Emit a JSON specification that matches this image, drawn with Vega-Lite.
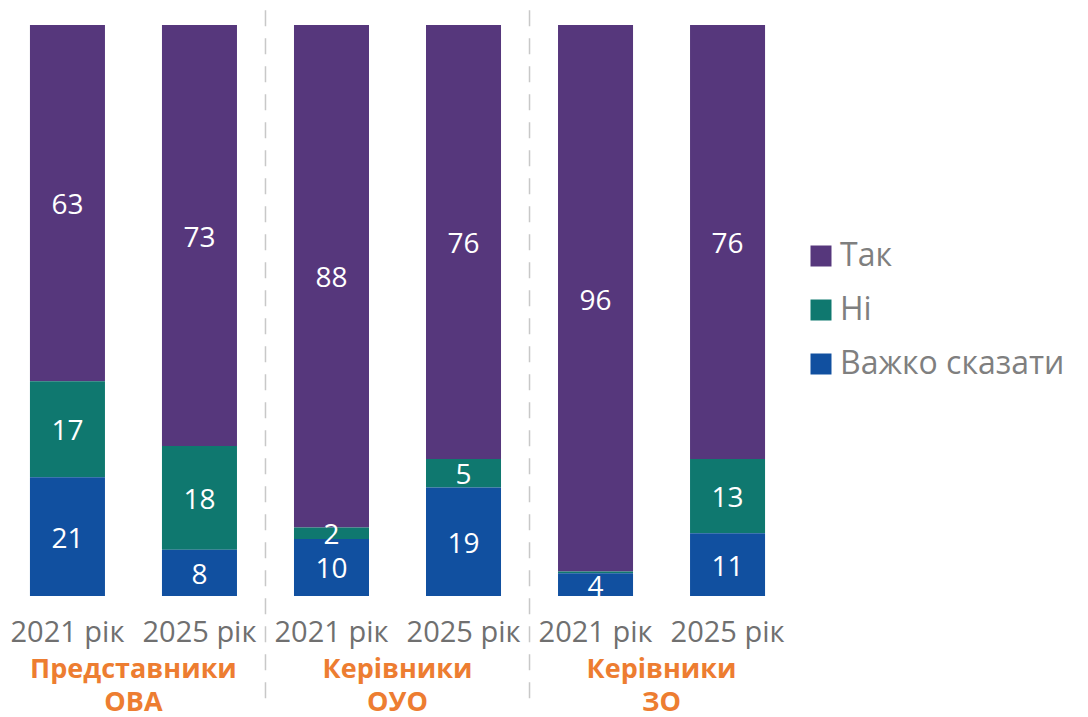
{
  "$schema": "https://vega.github.io/schema/vega-lite/v6.json",
  "width": 785,
  "height": 571,
  "autosize": {"type": "none"},
  "padding": {"left": 5, "top": 25, "right": 298, "bottom": 121},
  "background": "white",
  "config": {"view": {"stroke": null}, "font": "Open Sans"},
  "datasets": {
    "main": [
      {"bar": "ОВА|2021 рік", "answer": "Так", "value": 63},
      {"bar": "ОВА|2021 рік", "answer": "Ні", "value": 17},
      {"bar": "ОВА|2021 рік", "answer": "Важко сказати", "value": 21},
      {"bar": "ОВА|2025 рік", "answer": "Так", "value": 73},
      {"bar": "ОВА|2025 рік", "answer": "Ні", "value": 18},
      {"bar": "ОВА|2025 рік", "answer": "Важко сказати", "value": 8},
      {"bar": "ОУО|2021 рік", "answer": "Так", "value": 88},
      {"bar": "ОУО|2021 рік", "answer": "Ні", "value": 2},
      {"bar": "ОУО|2021 рік", "answer": "Важко сказати", "value": 10},
      {"bar": "ОУО|2025 рік", "answer": "Так", "value": 76},
      {"bar": "ОУО|2025 рік", "answer": "Ні", "value": 5},
      {"bar": "ОУО|2025 рік", "answer": "Важко сказати", "value": 19},
      {"bar": "ЗО|2021 рік", "answer": "Так", "value": 96},
      {"bar": "ЗО|2021 рік", "answer": "Ні", "value": 0.3},
      {"bar": "ЗО|2021 рік", "answer": "Важко сказати", "value": 4},
      {"bar": "ЗО|2025 рік", "answer": "Так", "value": 76},
      {"bar": "ЗО|2025 рік", "answer": "Ні", "value": 13},
      {"bar": "ЗО|2025 рік", "answer": "Важко сказати", "value": 11}
    ],
    "separators": [
      {"bar": "ОВА|2025 рік"},
      {"bar": "ОУО|2025 рік"}
    ],
    "groups": [
      {"bar": "ОВА|2021 рік", "label": "Представники\nОВА"},
      {"bar": "ОУО|2021 рік", "label": "Керівники\nОУО"},
      {"bar": "ЗО|2021 рік", "label": "Керівники\nЗО"}
    ]
  },
  "layer": [
    {
      "data": {"name": "main"},
      "mark": {"type": "bar"},
      "encoding": {
        "x": {
          "field": "bar", "type": "nominal", "sort": null,
          "scale": {"paddingInner": 0.4318, "paddingOuter": 0.189},
          "axis": {
            "title": null, "labelAngle": 0, "domain": false, "ticks": false,
            "labelExpr": "split(datum.label, '|')[1]",
            "labelFontSize": 29, "labelColor": "#707070", "labelPadding": 22,
            "labelOverlap": false, "labelBound": false, "labelFont": "Open Sans"
          }
        },
        "y": {
          "field": "value", "type": "quantitative", "stack": "normalize",
          "scale": {"domain": [0, 1], "nice": false, "zero": false},
          "axis": null
        },
        "color": {
          "field": "answer", "type": "nominal",
          "scale": {"domain": ["Так", "Ні", "Важко сказати"], "range": ["#56377C", "#0F786F", "#1150A0"]},
          "legend": {
            "title": null, "orient": "none", "legendX": 800, "legendY": 215,
            "symbolType": "square", "symbolSize": 441, "symbolStrokeWidth": 0,
            "labelFontSize": 32, "labelColor": "#7F7F7F", "labelFont": "Open Sans",
            "labelOffset": 3, "rowPadding": 22, "labelLimit": 400
          }
        },
        "order": {"field": "answer", "sort": "ascending"}
      }
    },
    {
      "data": {"name": "main"},
      "transform": [{"filter": "datum.value >= 1"}],
      "mark": {"type": "text", "color": "white", "fontSize": 28, "baseline": "middle", "align": "center", "dy": 3},
      "encoding": {
        "x": {"field": "bar", "type": "nominal", "sort": null},
        "y": {"field": "value", "type": "quantitative", "stack": "normalize", "bandPosition": 0.5},
        "detail": {"field": "answer"},
        "order": {"field": "answer", "sort": "ascending"},
        "text": {"field": "value", "type": "quantitative"}
      }
    },
    {
      "data": {"name": "separators"},
      "mark": {"type": "rule", "color": "#C8C8C8", "strokeWidth": 1.5, "strokeDash": [16, 12]},
      "encoding": {
        "x": {"field": "bar", "type": "nominal", "sort": null, "bandPosition": 1.38},
        "y": {"datum": 1.026, "type": "quantitative"},
        "y2": {"datum": -0.182}
      }
    },
    {
      "data": {"name": "groups"},
      "mark": {"type": "text", "color": "#ED7D31", "fontSize": 27, "fontWeight": "bold", "align": "center", "baseline": "alphabetic", "lineBreak": "\n", "lineHeight": 33},
      "encoding": {
        "x": {"field": "bar", "type": "nominal", "sort": null, "bandPosition": 1.38},
        "y": {"datum": -0.1436, "type": "quantitative"},
        "text": {"field": "label"}
      }
    }
  ]
}
